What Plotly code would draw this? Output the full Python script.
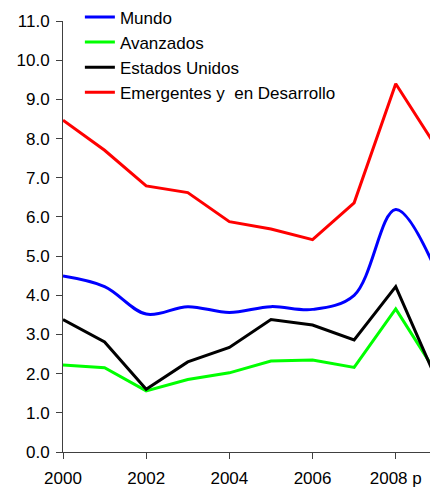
import plotly.graph_objects as go

years = [2000, 2001, 2002, 2003, 2004, 2005, 2006, 2007, 2008, 2009]
mundo = [4.49, 4.22, 3.52, 3.71, 3.56, 3.71, 3.64, 4.00, 6.19, 4.55]
avanzados = [2.22, 2.15, 1.56, 1.85, 2.02, 2.32, 2.35, 2.16, 3.65, 1.98]
eeuu = [3.38, 2.81, 1.60, 2.30, 2.67, 3.38, 3.24, 2.86, 4.22, 1.80]
emergentes = [8.47, 7.70, 6.79, 6.62, 5.88, 5.69, 5.42, 6.36, 9.40, 7.74]

tick_years = [2000, 2002, 2004, 2006, 2008]
tick_labels = ["2000", "2002", "2004", "2006", "2008 p"]
y_ticks = [i * 1.0 for i in range(12)]
y_tick_labels = [f"{v:.1f}" for v in y_ticks]

FONT = "Arial, Liberation Sans, sans-serif"

fig = go.Figure()
fig.add_trace(go.Scatter(x=years, y=mundo, name="Mundo", mode="lines",
                         line=dict(color="#0000FF", width=3, shape="spline")))
fig.add_trace(go.Scatter(x=years, y=avanzados, name="Avanzados", mode="lines",
                         line=dict(color="#00FF00", width=3)))
fig.add_trace(go.Scatter(x=years, y=eeuu, name="Estados Unidos", mode="lines",
                         line=dict(color="#000000", width=3)))
fig.add_trace(go.Scatter(x=years, y=emergentes, name="Emergentes y\u00a0 en Desarrollo", mode="lines",
                         line=dict(color="#FF0000", width=3)))

fig.update_layout(
    width=430, height=489,
    margin=dict(l=63, r=0, t=21, b=37, autoexpand=False),
    paper_bgcolor="white", plot_bgcolor="white",
    font=dict(family=FONT, size=16, color="#000000"),
    showlegend=True,
    legend=dict(x=0.046, y=1.05, xanchor="left", yanchor="top",
                bgcolor="rgba(0,0,0,0)", borderwidth=0,
                font=dict(family=FONT, size=17, color="#000000"),
                itemwidth=30, tracegroupgap=0),
    xaxis=dict(range=[2000, 2008.824], tickvals=tick_years, ticktext=tick_labels,
               showgrid=False, zeroline=False, showline=True, linecolor="#404040",
               linewidth=1, ticks="outside", ticklen=6, tickcolor="#404040",
               ticklabelstandoff=5,
               tickfont=dict(family=FONT, size=17)),
    yaxis=dict(range=[0, 11], tickvals=y_ticks, ticktext=y_tick_labels,
               showgrid=False, zeroline=False, showline=True, linecolor="#404040",
               linewidth=1, ticks="outside", ticklen=6, tickcolor="#404040",
               ticklabelstandoff=3,
               tickfont=dict(family=FONT, size=17)),
)

fig.write_html("out.html",
               config={"displayModeBar": False},
               post_script="document.body.style.margin='0px';document.body.style.overflow='hidden';")
